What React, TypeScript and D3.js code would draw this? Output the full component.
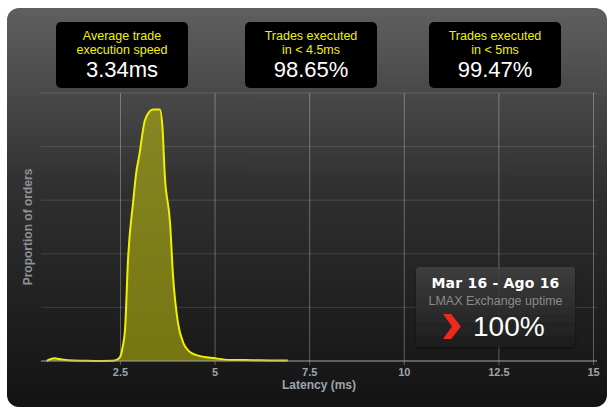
import React from "react";
import * as d3 from "d3";

const latency = [0.55, 0.75, 0.95, 1.25, 1.6, 2.0, 2.3, 2.4, 2.5, 2.56, 2.62, 2.7, 2.84, 2.91, 3.0, 3.15, 3.36, 3.54, 3.61, 3.67, 3.81, 3.89, 4.02, 4.16, 4.3, 4.51, 5.0, 5.4, 6.0, 6.5, 6.92];
const proportion = [0, 0.05, 0.03, 0.01, 0.003, 0.002, 0.003, 0.02, 0.09, 0.27, 0.58, 1.9, 3.0, 3.48, 3.85, 4.5, 4.69, 4.69, 4.36, 3.48, 2.58, 1.58, 0.71, 0.34, 0.19, 0.11, 0.05, 0.02, 0.015, 0.01, 0.01];
const xTicks = [2.5, 5, 7.5, 10, 12.5, 15];
const yGrid = [0, 1, 2, 3, 4, 5];

const statTitles = [["Average trade", "execution speed"], ["Trades executed", "in < 4.5ms"], ["Trades executed", "in < 5ms"]];
const statValues = ["3.34ms", "98.65%", "99.47%"];

const uptimePeriod = "Mar 16 - Ago 16";
const uptimeLabel = "LMAX Exchange uptime";
const uptimeValue = "100%";

export default function App() {
  const left = 41, right = 597, top = 93, bottom = 361;
  const x = d3.scaleLinear().domain([0.4, 15]).range([left, 593.5]);
  const y = d3.scaleLinear().domain([0, 5]).range([bottom, top]);
  const pts = latency.map((v, i) => [v, proportion[i]] as [number, number]);
  const area = d3.area<[number, number]>().x(d => x(d[0])).y0(bottom).y1(d => y(d[1])).curve(d3.curveMonotoneX);
  const line = d3.line<[number, number]>().x(d => x(d[0])).y(d => y(d[1])).curve(d3.curveMonotoneX);
  const font = "'Liberation Sans', Arial, sans-serif";
  const boxX = [56, 245, 429];
  const bw = 132;

  return (
    <div style={{ position: "absolute", left: 0, top: 0 }}>
      <svg width={615} height={414} style={{ display: "block" }}>
        <defs>
          <linearGradient id="bg" x1="0" y1="0" x2="0" y2="1">
            <stop offset="0" stopColor="#5f5f5f" />
            <stop offset="0.45" stopColor="#303030" />
            <stop offset="1" stopColor="#131313" />
          </linearGradient>
          <linearGradient id="fillg" x1="0" y1="0" x2="0" y2="1">
            <stop offset="0" stopColor="#8a8a22" />
            <stop offset="1" stopColor="#7a7a12" />
          </linearGradient>
          <linearGradient id="upg" x1="0" y1="0" x2="0" y2="1">
            <stop offset="0" stopColor="rgba(70,70,70,0.75)" />
            <stop offset="1" stopColor="rgba(28,28,28,0.85)" />
          </linearGradient>
          <filter id="sh" x="-10%" y="-10%" width="120%" height="130%">
            <feDropShadow dx="0" dy="1" stdDeviation="1.5" floodColor="#000" floodOpacity="0.6" />
          </filter>
        </defs>
        <rect x={0} y={0} width={615} height={414} fill="#fff" />
        <rect x={7} y={8} width={600} height={399} rx={12} fill="url(#bg)" />

        {yGrid.slice(1).map(v => (
          <line key={"h" + v} x1={left} x2={right} y1={y(v)} y2={y(v)} stroke="rgba(255,255,255,0.13)" strokeWidth={1} />
        ))}
        {xTicks.map(v => (
          <line key={"v" + v} x1={x(v)} x2={x(v)} y1={top} y2={bottom + 4} stroke="rgba(255,255,255,0.3)" strokeWidth={1} />
        ))}

        <path d={area(pts) || ""} fill="url(#fillg)" fillOpacity={0.95} />
        <path d={line(pts) || ""} fill="none" stroke="#f0f000" strokeWidth={2} />

        <line x1={left} x2={right} y1={bottom} y2={bottom} stroke="#a8a8a8" strokeWidth={1} />
        {xTicks.map(v => (
          <text key={"t" + v} x={x(v)} y={376} textAnchor="middle" fill="#9ca5ae" fontFamily={font} fontWeight="bold" fontSize={11}>{v}</text>
        ))}
        <text x={319} y={389} textAnchor="middle" fill="#9ca5ae" fontFamily={font} fontWeight="bold" fontSize={12}>Latency (ms)</text>
        <text transform={`translate(32,227) rotate(-90)`} textAnchor="middle" fill="#8e9296" fontFamily={font} fontWeight="bold" fontSize={12}>Proportion of orders</text>

        {boxX.map((bx, i) => (
          <g key={"b" + i}>
            <rect x={bx} y={22} width={bw} height={66} rx={5} fill="#000" />
            <text x={bx + bw / 2} y={40} textAnchor="middle" fill="#f2f200" fontFamily={font} fontSize={12.5}>{statTitles[i][0]}</text>
            <text x={bx + bw / 2} y={53.8} textAnchor="middle" fill="#f2f200" fontFamily={font} fontSize={12.5}>{statTitles[i][1]}</text>
            <text x={bx + bw / 2} y={76.5} textAnchor="middle" fill="#fff" fontFamily={font} fontSize={22}>{statValues[i]}</text>
          </g>
        ))}

        <g>
          <rect x={416} y={267} width={159} height={80} rx={4} fill="url(#upg)" filter="url(#sh)" />
          <text x={495.5} y={287.5} textAnchor="middle" fill="#fff" fontFamily="'DejaVu Sans', Verdana, sans-serif" fontWeight="bold" fontSize={14} letterSpacing={0.2}>{uptimePeriod}</text>
          <text x={495.5} y={304.5} textAnchor="middle" fill="#8c8c8c" fontFamily={font} fontSize={12.5}>{uptimeLabel}</text>
          <polygon points="443,314 451,314 461,326.5 451,339 443,339 452,326.5" fill="#ee2a1c" />
          <text x={473} y={336} fill="#fff" fontFamily={font} fontSize={28}>{uptimeValue}</text>
        </g>
      </svg>
    </div>
  );
}
